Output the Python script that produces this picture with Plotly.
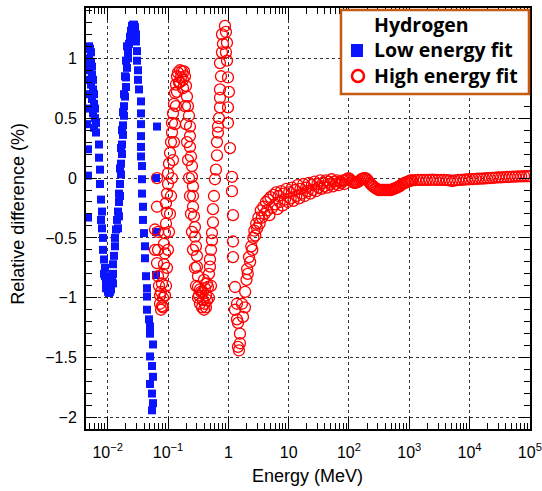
import plotly.graph_objects as go

# ---------------- data ----------------
# Low energy fit (blue squares): energy in MeV, relative difference in %
blue_energy = [0.00471, 0.00490, 0.00509, 0.00529, 0.00490, 0.00529, 0.00549, 0.00509, 0.00549, 0.00571,
               0.00529, 0.00571, 0.00593, 0.00549, 0.00593, 0.00616, 0.00571, 0.00616, 0.00640, 0.00593,
               0.00640, 0.00471, 0.00471, 0.00471, 0.00717, 0.00717, 0.00745, 0.00745, 0.00774, 0.00804,
               0.00774, 0.00804, 0.00836, 0.00836, 0.00868, 0.00902, 0.00902, 0.00937, 0.00974, 0.01012,
               0.01051, 0.01092, 0.01134, 0.01178, 0.01224, 0.01224, 0.01272, 0.01321, 0.01321, 0.01373,
               0.01426, 0.01482, 0.01539, 0.01539, 0.01599, 0.01661, 0.01661, 0.01726, 0.01726, 0.01793,
               0.01793, 0.01863, 0.01863, 0.01936, 0.02011, 0.02011, 0.02089, 0.02170, 0.02170, 0.02255,
               0.02343, 0.02434, 0.02528, 0.02627, 0.02729, 0.02835, 0.02946, 0.02946, 0.03060, 0.03060,
               0.03179, 0.03179, 0.03303, 0.03565, 0.03565, 0.03565, 0.03565, 0.03565, 0.03565, 0.03704,
               0.03704, 0.03704, 0.03848, 0.03848, 0.03998, 0.04153, 0.04153, 0.04315, 0.04483, 0.04483,
               0.04483, 0.04839, 0.05027, 0.05027, 0.05637, 0.05027, 0.05426, 0.05637, 0.05027, 0.05426,
               0.05637, 0.05426, 0.0656, 0.0632, 0.0632, 0.0632]
blue_diff = [1.08, 1.1, 1.08, 1.05, 1.0, 0.97, 0.93, 0.9, 0.86, 0.82,
             0.78, 0.74, 0.7, 0.66, 0.62, 0.58, 0.54, 0.5, 0.46, 0.42,
             0.38, 0.24, 0.02, -0.33, 0.28, 0.17, 0.07, -0.05, -0.18, -0.28,
             -0.35, -0.42, -0.5, -0.6, -0.68, -0.75, -0.82, -0.88, -0.92, -0.95,
             -0.96, -0.95, -0.92, -0.86, -0.8, -0.72, -0.65, -0.57, -0.5, -0.43,
             -0.35, -0.28, -0.2, -0.13, -0.05, 0.03, 0.12, 0.2, 0.28, 0.36,
             0.44, 0.52, 0.6, 0.68, 0.76, 0.84, 0.92, 1.0, 1.06, 1.12,
             1.18, 1.23, 1.27, 1.28, 1.28, 1.26, 1.2, 1.14, 1.06, 0.98,
             0.9, 0.82, 0.74, 0.64, 0.54, 0.45, 0.35, 0.26, 0.18, 0.1,
             -0.01, -0.13, -0.24, -0.35, -0.46, -0.57, -0.67, -0.82, -0.92, -0.99,
             -1.1, -1.18, -1.24, -1.3, -1.39, -1.49, -1.57, -1.66, -1.72, -1.8,
             -1.88, -1.94, 0.43, 0.0, -0.45, -0.81]
blue_extra_energy = [0.01482, 0.01539, 0.01599, 0.01599, 0.01661, 0.01726, 0.01793, 0.01863,
                     0.01936, 0.02011, 0.02089, 0.00868, 0.00937, 0.01134, 0.01224,
                     0.00454, 0.00454, 0.00454, 0.00472, 0.00472]
blue_extra_diff = [-0.42, -0.32, -0.15, 0.08, 0.25, 0.4, 0.55, 0.7,
                   0.85, 0.98, 1.1, -0.8, -0.92, -0.93, -0.88,
                   0.95, 0.7, 0.45, 0.82, 0.58]

# High energy fit (red open circles), oscillating part below ~2 MeV
red_osc_energy = [0.0656, 0.0656, 0.0608, 0.0682, 0.0608, 0.0682, 0.0656, 0.0682, 0.0709, 0.0736,
                  0.0736, 0.0765, 0.0794, 0.0825, 0.0765, 0.0794, 0.0825, 0.0857, 0.0891, 0.0857,
                  0.0891, 0.0925, 0.0961, 0.0925, 0.0961, 0.0999, 0.0999, 0.1038, 0.1078, 0.1120,
                  0.1163, 0.1163, 0.1209, 0.1256, 0.1305, 0.1355, 0.1408, 0.1463, 0.1579, 0.1704,
                  0.1839, 0.1911, 0.1770, 0.1640, 0.1520, 0.1985, 0.2062, 0.2142, 0.2226, 0.2312,
                  0.2312, 0.2312, 0.2402, 0.2496, 0.2496, 0.2593, 0.2593, 0.2593, 0.2694, 0.2798,
                  0.2798, 0.2907, 0.3020, 0.3020, 0.3138, 0.3138, 0.3260, 0.3387, 0.3656, 0.3798,
                  0.3946, 0.4100, 0.4259, 0.4425, 0.4100, 0.4425, 0.4597, 0.4776, 0.4962, 0.4962,
                  0.5155, 0.5356, 0.5356, 0.5564, 0.5564, 0.5781, 0.6006, 0.6239, 0.6482, 0.6482,
                  0.6734, 0.6734, 0.6996, 0.7268, 0.7268, 0.7268, 0.7551, 0.7268, 0.7845, 0.8150,
                  0.7845, 0.8796, 0.9138, 0.9493, 0.9138, 0.9493, 0.9862, 1.0246, 0.9862, 0.9862,
                  1.0644, 1.1488, 1.1488, 1.1935, 1.1935, 1.1935, 1.2882, 1.2882, 1.3904, 1.3904,
                  1.4444, 1.5590, 1.4444, 1.5006, 1.5590, 1.6827, 1.7481, 1.8868]
red_osc_diff = [0.0, -0.24, -0.43, -0.45, -0.6, -0.6, -0.71, -0.82, -0.9, -0.98,
                -1.05, -1.1, -1.07, -1.0, -0.95, -0.88, -0.8, -0.72, -0.63, -0.55,
                -0.46, -0.38, -0.29, -0.21, -0.13, -0.05, 0.04, 0.12, 0.21, 0.3,
                0.38, 0.46, 0.54, 0.62, 0.71, 0.78, 0.85, 0.88, 0.9, 0.89,
                0.89, 0.85, 0.82, 0.84, 0.8, 0.77, 0.68, 0.6, 0.52, 0.43,
                0.35, 0.26, 0.18, 0.1, 0.01, -0.07, -0.15, -0.24, -0.32, -0.41,
                -0.49, -0.57, -0.65, -0.74, -0.82, -0.91, -0.98, -1.05, -1.08, -1.02,
                -1.1, -1.05, -0.98, -1.02, -0.92, -0.88, -0.91, -0.8, -0.74, -0.68,
                -0.6, -0.52, -0.46, -0.37, -0.26, -0.15, -0.01, 0.07, 0.19, 0.3,
                0.38, 0.43, 0.5, 0.59, 0.67, 0.74, 0.85, 0.96, 1.05, 1.12,
                1.2, 1.27, 1.22, 1.13, 1.05, 0.98, 0.84, 0.72, 0.59, 0.46,
                0.25, 0.01, -0.11, -0.31, -0.53, -0.66, -0.91, -1.1, -1.05, -1.18,
                -1.21, -1.3, -1.41, -1.44, -1.38, -1.05, -1.16, -1.08]
red_extra_energy = [0.0925, 0.0961, 0.0999, 0.1038, 0.1078, 0.1120, 0.1163, 0.1209, 0.1256, 0.1305,
                    0.1355, 0.1408, 0.1579, 0.1770, 0.1911, 0.1985, 0.2062, 0.2142, 0.2226, 0.2312,
                    0.2402, 0.2496, 0.2593, 0.2798, 0.2907, 0.3138, 0.3520, 0.3798, 0.4259, 0.4776,
                    0.5155, 0.3946, 0.3387, 0.0825, 0.0891]
red_extra_diff = [-0.9, -0.75, -0.6, -0.45, -0.3, -0.15, 0.0, 0.15, 0.3, 0.45,
                  0.6, 0.72, 0.8, 0.75, 0.6, 0.45, 0.3, 0.15, 0.0, -0.15,
                  -0.3, -0.45, -0.6, -0.75, -0.9, -1.0, -0.95, -0.95, -1.08, -1.0,
                  -0.9, -0.85, -0.93, -1.08, -0.98]

# High energy fit, recovery and plateau from ~2 MeV to ~1 GeV
red_mid_energy = [1.9, 2.0, 2.05, 2.1, 2.2, 2.3, 2.4, 2.5, 2.6, 2.7,
                  2.8, 2.9, 3.0, 3.15, 3.3, 3.45, 3.6, 3.8, 4.0, 4.2,
                  4.4, 4.6, 4.8, 5.0, 5.3, 5.6, 5.9, 6.2, 6.5, 6.8,
                  7.1, 7.5, 7.9, 8.3, 8.7, 9.2, 9.7, 10.2, 10.8, 11.4,
                  12.0, 12.7, 13.4, 14.1, 14.9, 15.7, 16.6, 17.5, 18.5, 19.5,
                  20.6, 21.7, 22.9, 24.2, 25.5, 26.9, 28.4, 30.0, 31.6, 33.4,
                  35.2, 37.2, 39.2, 41.4, 43.7, 46.1, 48.7, 51.4, 54.2, 57.2,
                  60.4, 63.7, 67.3, 71.0, 75.0, 79.0, 84.0, 88.0, 93.0, 98.0,
                  104, 110, 116, 122, 129, 136, 144, 152, 160, 169,
                  178, 188, 199, 210, 221, 234, 247, 260, 275, 290,
                  306, 323, 341, 360, 380, 401, 423, 447, 472, 498,
                  525, 555, 585, 618, 652, 688, 726, 767, 809, 854,
                  902, 952, 1005, 1060]
red_mid_diff = [-0.95, -0.85, -0.76, -0.8, -0.66, -0.7, -0.57, -0.6, -0.5, -0.44,
                -0.48, -0.38, -0.42, -0.33, -0.38, -0.27, -0.33, -0.24, -0.3, -0.2,
                -0.27, -0.18, -0.31, -0.16, -0.25, -0.14, -0.22, -0.12, -0.26, -0.15,
                -0.2, -0.11, -0.23, -0.13, -0.18, -0.09, -0.2, -0.12, -0.17, -0.08,
                -0.19, -0.1, -0.15, -0.06, -0.17, -0.09, -0.13, -0.05, -0.15, -0.08,
                -0.11, -0.04, -0.13, -0.06, -0.1, -0.03, -0.11, -0.05, -0.08, -0.02,
                -0.09, -0.04, -0.07, -0.02, -0.08, -0.03, -0.05, -0.01, -0.07, -0.03,
                -0.05, -0.02, -0.06, -0.03, -0.04, -0.02, -0.05, -0.02, -0.01, 0.0,
                -0.01, -0.025, -0.035, -0.04, -0.04, -0.035, -0.03, -0.02, -0.01, -0.005,
                0.0, 0.0, -0.01, -0.025, -0.04, -0.055, -0.065, -0.075, -0.085, -0.09,
                -0.1, -0.1, -0.1, -0.1, -0.1, -0.1, -0.1, -0.1, -0.1, -0.1,
                -0.095, -0.09, -0.085, -0.08, -0.075, -0.07, -0.06, -0.05, -0.045, -0.04,
                -0.035, -0.03, -0.025, -0.02]

# High energy fit, flat tail up to 100 GeV
red_high_energy = [1120, 1250, 1400, 1560, 1740, 1940, 2170, 2420, 2700, 3010,
                   3360, 3750, 4190, 4670, 5210, 5810, 6480, 7230, 8070, 9000,
                   10000, 11200, 12500, 13900, 15500, 17300, 19300, 21500, 24000, 26800,
                   29900, 33300, 37200, 41500, 46300, 51600, 57600, 64200, 71700, 80000,
                   89200, 99500]
red_high_diff = [-0.02, -0.018, -0.015, -0.015, -0.015, -0.015, -0.015, -0.014, -0.015, -0.016,
                 -0.015, -0.016, -0.018, -0.02, -0.025, -0.02, -0.016, -0.015, -0.013, -0.012,
                 -0.01, -0.009, -0.007, -0.006, -0.005, -0.004, -0.002, 0.0, 0.002, 0.004,
                 0.005, 0.006, 0.008, 0.009, 0.01, 0.011, 0.012, 0.013, 0.014, 0.015,
                 0.015, 0.016]

x_tick_vals = [0.01, 0.1, 1, 10, 100, 1000, 10000, 100000]
x_tick_text = ["10<sup>\u22122</sup>", "10<sup>\u22121</sup>", "1", "10",
               "10<sup>2</sup>", "10<sup>3</sup>", "10<sup>4</sup>", "10<sup>5</sup>"]

legend_title = "Hydrogen"
blue_name = "Low energy fit"
red_name = "High energy fit"
x_title = "Energy (MeV)"
y_title = "Relative difference (%)"

blue_e = blue_energy + blue_extra_energy
blue_d = blue_diff + blue_extra_diff
red_e = red_osc_energy + red_extra_energy + red_mid_energy + red_high_energy
red_d = red_osc_diff + red_extra_diff + red_mid_diff + red_high_diff

# ---------------- figure ----------------
SANS = "Liberation Sans, Arial, Helvetica, sans-serif"
AXIS_FONT = dict(family=SANS, size=16, color="black")
LEG_FONT = dict(family="Open Sans, sans-serif", size=19.5, color="black", weight="bold")
BLUE = "#0a14ff"
RED = "#ff0000"
LEG_BORDER = "#c55a11"

fig = go.Figure()
fig.add_trace(go.Scatter(
    x=blue_e, y=blue_d, mode="markers", name=blue_name, showlegend=False,
    marker=dict(symbol="square", size=8, color=BLUE, line=dict(width=0)),
))
fig.add_trace(go.Scatter(
    x=red_e, y=red_d, mode="markers", name=red_name, showlegend=False,
    marker=dict(symbol="circle-open", size=11, color=RED, line=dict(width=1.3)),
))

# legend box (drawn in paper coordinates)
shapes = [
    dict(type="rect", xref="paper", yref="paper", x0=0.5743, x1=0.9977, y0=0.7957, y1=0.9952,
         line=dict(color=LEG_BORDER, width=2.5), fillcolor="white", layer="above"),
    dict(type="rect", xref="paper", yref="paper", x0=0.5968, x1=0.6239, y0=0.8836, y1=0.9145,
         line=dict(width=0), fillcolor=BLUE, layer="above"),
    dict(type="circle", xref="paper", yref="paper", x0=0.5991, x1=0.6261, y0=0.8242, y1=0.8527,
         line=dict(color=RED, width=2.5), fillcolor="white", layer="above"),
]
annotations = [
    dict(text="<br>".join([legend_title, blue_name, red_name]), xref="paper", yref="paper",
         x=0.6464, y=0.8991, xanchor="left", yanchor="middle", align="left",
         showarrow=False, font=LEG_FONT, borderpad=0),
    dict(text=x_title, xref="paper", yref="paper", x=0.498, y=-0.112,
         xanchor="center", yanchor="middle", showarrow=False, font=dict(family=SANS, size=18, color="black")),
    dict(text=y_title, xref="paper", yref="paper", x=-0.1532, y=0.511, textangle=-90,
         xanchor="center", yanchor="middle", showarrow=False, font=dict(family=SANS, size=18, color="black")),
]

fig.update_layout(
    width=542, height=491,
    margin=dict(l=86, r=12, t=8, b=62, autoexpand=False),
    paper_bgcolor="white", plot_bgcolor="white",
    font=AXIS_FONT,
    showlegend=False,
    shapes=shapes,
    annotations=annotations,
)

fig.update_xaxes(
    type="log", range=[-2.36, 5.002], automargin=False,
    tickmode="array", tickvals=x_tick_vals, ticktext=x_tick_text,
    ticks="inside", ticklen=12, tickwidth=1, tickcolor="black",
    minor=dict(ticks="inside", ticklen=6, tickwidth=1, tickcolor="black", dtick="D1", showgrid=False),
    showline=True, linecolor="black", linewidth=2, mirror="allticks",
    showgrid=True, gridcolor="#333333", griddash="dot", gridwidth=1,
    zeroline=False, tickfont=AXIS_FONT, ticklabelstandoff=8,
)
fig.update_yaxes(
    range=[-2.096, 1.42], automargin=False,
    tickmode="linear", tick0=0, dtick=0.5,
    ticks="inside", ticklen=11, tickwidth=1, tickcolor="black",
    minor=dict(ticks="inside", ticklen=6, tickwidth=1, tickcolor="black", dtick=0.1, showgrid=False),
    showline=True, linecolor="black", linewidth=2, mirror="allticks",
    showgrid=True, gridcolor="#333333", griddash="dot", gridwidth=1,
    zeroline=False, tickfont=AXIS_FONT, ticklabelstandoff=4,
)

fig.write_html("out.html", config={"displayModeBar": False},
               post_script="document.body.style.margin='0';document.body.style.overflow='hidden';")
